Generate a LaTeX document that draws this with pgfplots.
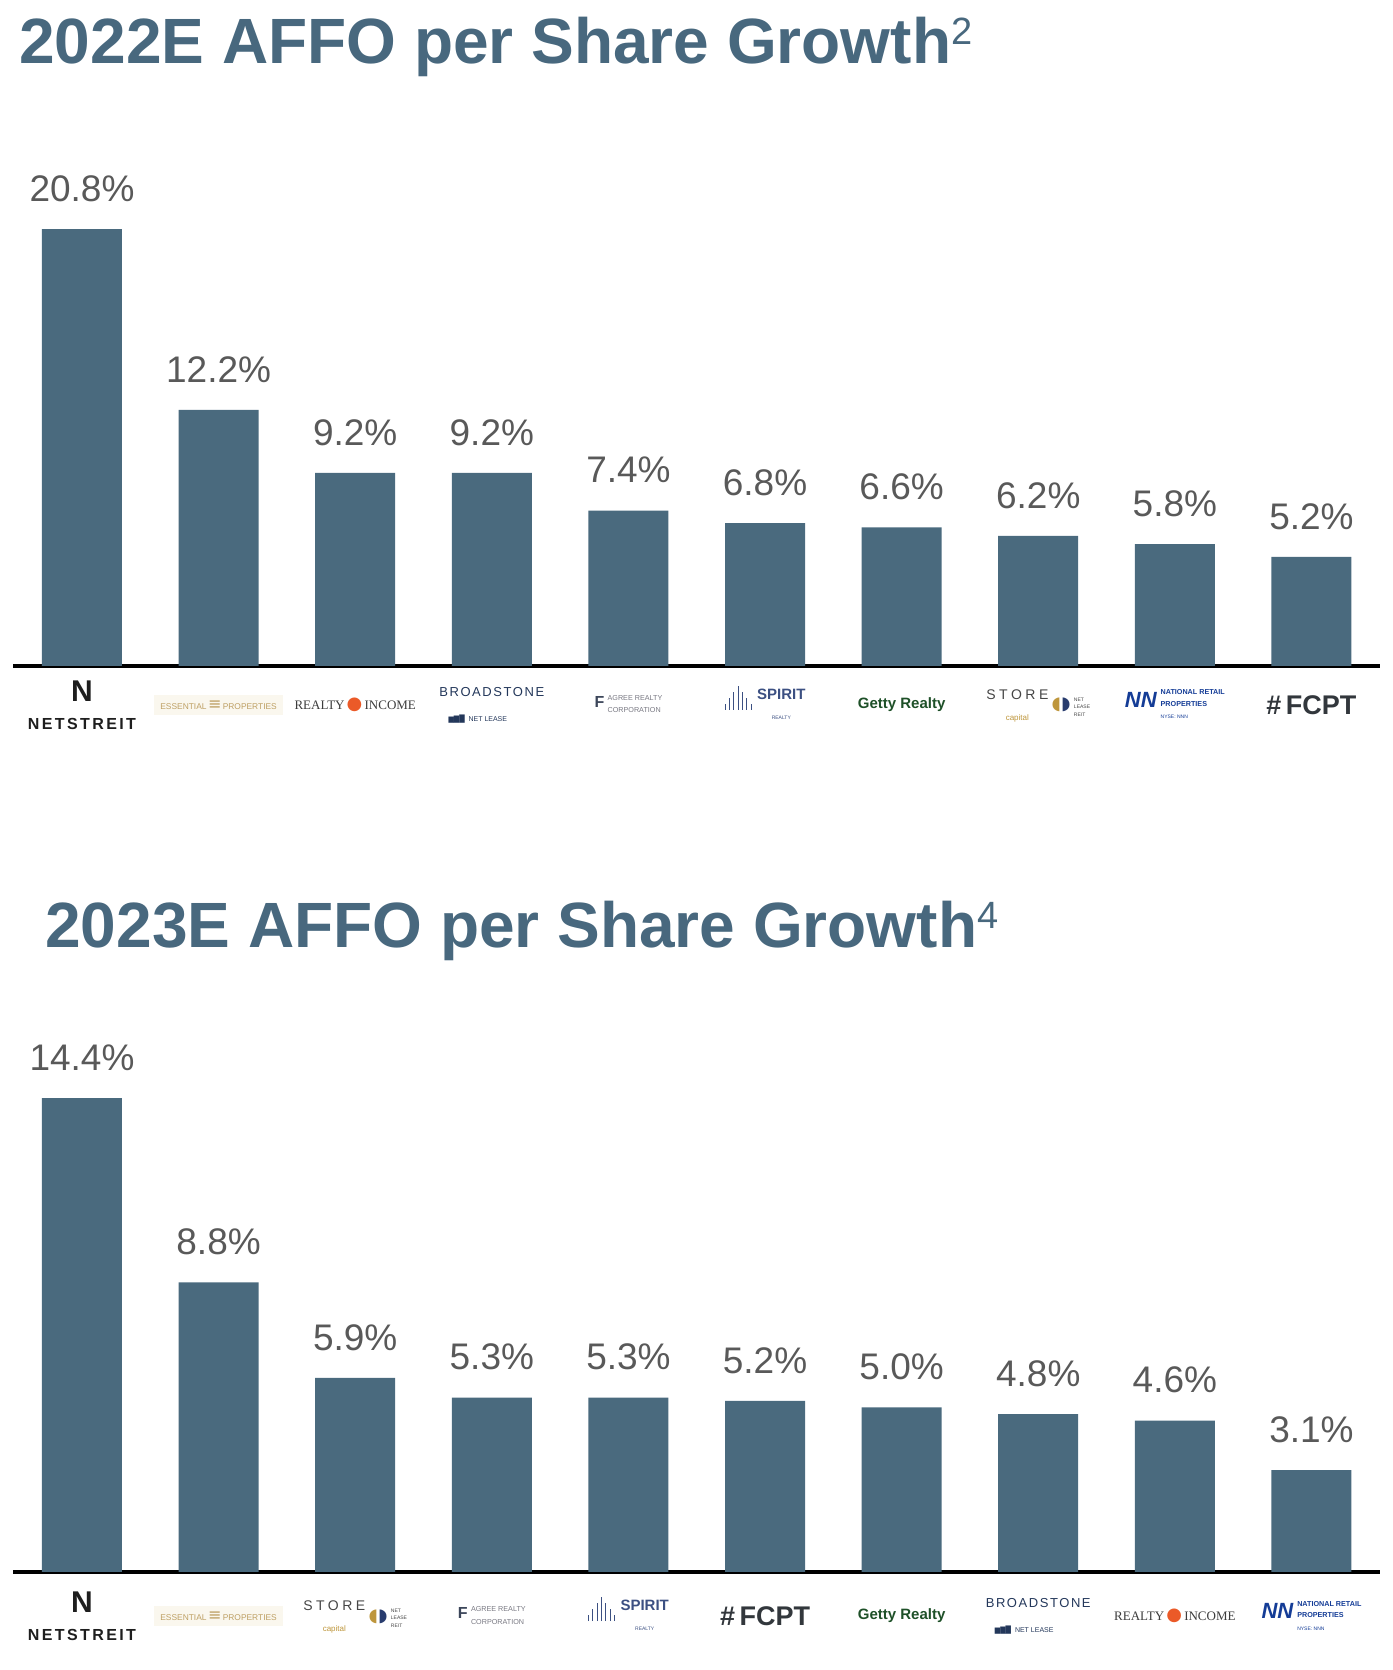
\documentclass[border=0pt]{standalone}
\usepackage{fontspec}
\setmainfont{Liberation Sans}
\newfontfamily\seriff{Liberation Serif}
\newfontfamily\symf{DejaVu Sans}
\usepackage{pgfplots}
\pgfplotsset{compat=1.18}

\definecolor{barc}{RGB}{74,106,126}
\definecolor{titc}{RGB}{72,104,126}
\definecolor{labc}{RGB}{89,89,89}
\definecolor{netdark}{RGB}{30,30,30}
\definecolor{essbg}{RGB}{250,247,238}
\definecolor{essgold}{RGB}{190,160,100}
\definecolor{ridark}{RGB}{60,60,60}
\definecolor{riorange}{RGB}{235,90,40}
\definecolor{bnlnavy}{RGB}{35,55,90}
\definecolor{agdark}{RGB}{60,70,90}
\definecolor{aggray}{RGB}{120,120,130}
\definecolor{spblue}{RGB}{60,80,130}
\definecolor{gettygreen}{RGB}{30,80,40}
\definecolor{stgray}{RGB}{70,70,70}
\definecolor{stgold}{RGB}{190,150,60}
\definecolor{stblue}{RGB}{40,60,110}
\definecolor{nnnblue}{RGB}{20,60,150}
\definecolor{fcptgray}{RGB}{50,55,60}

\newcommand\LNet{{\fontsize{15}{15}\selectfont\bfseries\textcolor{netdark}{N}}\\[2pt]{\fontsize{8}{8}\selectfont\bfseries\addfontfeature{LetterSpace=15}\textcolor{netdark}{NETSTREIT}}}
\newcommand\LEss{\colorbox{essbg}{\fontsize{4.2}{5}\selectfont\textcolor{essgold}{ESSENTIAL\,{\symf\fontsize{8}{8}\selectfont ≡}\,PROPERTIES}}}
\newcommand\LRealty{{\seriff\fontsize{6.5}{7}\selectfont\textcolor{ridark}{REALTY}\,{\symf\fontsize{9}{9}\selectfont\textcolor{riorange}{●}}\,\textcolor{ridark}{INCOME}}}
\newcommand\LBroad{{\fontsize{6.5}{7}\selectfont\addfontfeature{LetterSpace=12}\textcolor{bnlnavy}{BROADSTONE}}\\[0.5pt]{\fontsize{3.5}{4}\selectfont\textcolor{bnlnavy}{{\symf ▆▇█}\ \ NET\ LEASE\hspace{14pt}}}}
\newcommand\LAgree{{\fontsize{8}{8}\selectfont\bfseries\textcolor{agdark}{F}}\,{\fontsize{3.6}{5}\selectfont\textcolor{aggray}{\begin{tabular}{@{}l@{}}AGREE REALTY\\[1pt]CORPORATION\end{tabular}}}}
\newcommand\LSpirit{\textcolor{spblue}{\rule{0.5pt}{3pt}\,\rule{0.5pt}{6pt}\,\rule{0.5pt}{9pt}\,\rule{0.5pt}{12pt}\,\rule{0.5pt}{9pt}\,\rule{0.5pt}{6pt}\,\rule{0.5pt}{3pt}}\ \begin{tabular}{@{}c@{}}{\fontsize{7.5}{8}\selectfont\bfseries\textcolor{spblue}{SPIRIT}}\\[-2pt]{\fontsize{2.5}{3}\selectfont\textcolor{spblue}{REALTY}}\end{tabular}}
\newcommand\LGetty{{\fontsize{7.5}{8}\selectfont\bfseries\textcolor{gettygreen}{Getty Realty}}}
\newcommand\LStore{\begin{tabular}{@{}c@{}}{\fontsize{7}{7}\selectfont\addfontfeature{LetterSpace=25}\textcolor{stgray}{STORE}}\\[-1.5pt]{\fontsize{4}{4}\selectfont\textcolor{stgold}{capital}}\end{tabular}\,{\symf\fontsize{9}{9}\selectfont\textcolor{stgold}{◖}\textcolor{stblue}{◗}}\,{\fontsize{2.5}{3.6}\selectfont\textcolor{stgray}{\begin{tabular}{@{}l@{}}NET\\LEASE\\REIT\end{tabular}}}}
\newcommand\LNNN{{\fontsize{11}{11}\selectfont\bfseries\itshape\textcolor{nnnblue}{NN}}\hspace{2pt}{\fontsize{3.6}{5}\selectfont\bfseries\textcolor{nnnblue}{\begin{tabular}{@{}l@{}}NATIONAL RETAIL\\[1pt]PROPERTIES\\[1pt]{\fontsize{2.5}{3}\selectfont\mdseries NYSE: NNN}\end{tabular}}}}
\newcommand\LFCPT{{\fontsize{13.5}{14}\selectfont\bfseries\textcolor{fcptgray}{\#\,FCPT}}}

\pgfplotsset{peer/.style={
  ybar, scale only axis, width=683.5pt,
  xmin=-0.505, xmax=9.502, ymin=0,
  bar width=40pt, bar shift=0pt,
  axis x line=bottom, axis y line=none,
  axis line style={-, line width=1.75pt, black},
  xtick={0,...,9}, major tick length=0pt,
  xticklabel style={anchor=center, align=center, inner sep=0pt},
  /pgf/number format/assume math mode=true,
  nodes near coords={\pgfmathprintnumber[fixed,fixed zerofill,precision=1]{\pgfplotspointmeta}\%},
  nodes near coords style={font=\fontsize{18.5}{20}\selectfont, text=labc, anchor=south, inner sep=0pt, yshift=13.5pt},
  clip=false,
  anchor=south west,
}}

\begin{document}
\begin{tikzpicture}
\path[use as bounding box] (0,0) rectangle (696pt,835pt);

\node[anchor=base west, inner sep=0pt, text=titc, font=\fontsize{32}{36}\selectfont\bfseries] at (9.5pt,803pt)
  {2022E AFFO per Share Growth\raisebox{9.5pt}{\fontsize{19}{20}\selectfont\mdseries 2}};

\begin{axis}[peer, at={(6.5pt,502pt)}, height=231pt, ymax=22,
  xticklabel style={yshift=-19.5pt},
  xticklabels={\LNet,\LEss,\LRealty,\LBroad,\LAgree,\LSpirit,\LGetty,\LStore,\LNNN,\LFCPT}]
\addplot[fill=barc, draw=none] coordinates {(0,20.8) (1,12.2) (2,9.2) (3,9.2) (4,7.4) (5,6.8) (6,6.6) (7,6.2) (8,5.8) (9,5.2)};
\end{axis}

\node[anchor=base west, inner sep=0pt, text=titc, font=\fontsize{32}{36}\selectfont\bfseries] at (22.5pt,361.25pt)
  {2023E AFFO per Share Growth\raisebox{9.5pt}{\fontsize{19}{20}\selectfont\mdseries 4}};

\begin{axis}[peer, at={(6.5pt,49pt)}, height=263.2pt, ymax=16,
  xticklabel style={yshift=-22pt},
  xticklabels={\LNet,\LEss,\LStore,\LAgree,\LSpirit,\LFCPT,\LGetty,\LBroad,\LRealty,\LNNN}]
\addplot[fill=barc, draw=none] coordinates {(0,14.4) (1,8.8) (2,5.9) (3,5.3) (4,5.3) (5,5.2) (6,5.0) (7,4.8) (8,4.6) (9,3.1)};
\end{axis}
\end{tikzpicture}
\end{document}
